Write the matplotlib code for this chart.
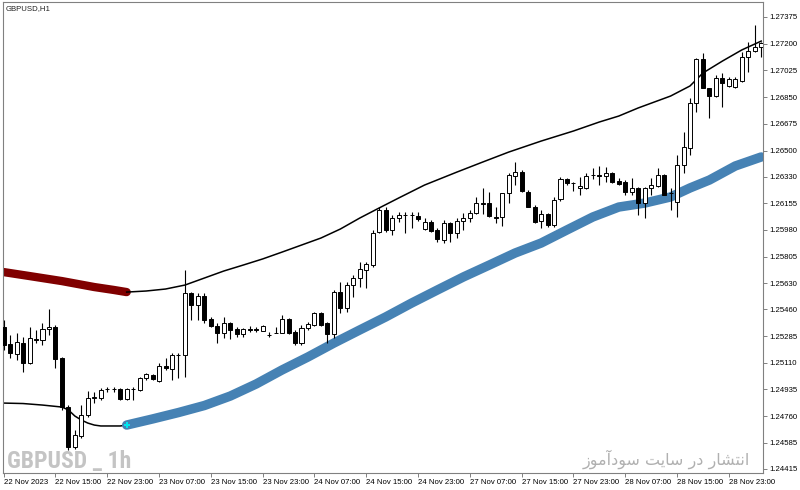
import matplotlib
matplotlib.use("Agg")
import matplotlib.pyplot as plt
import numpy as np

# ---------------- data ----------------
opens = [1.25344, 1.25233, 1.25167, 1.25239, 1.25108, 1.25266, 1.25259, 1.25331, 1.25344, 1.25141,
         1.24820, 1.24558, 1.24630, 1.24768, 1.24879, 1.24879, 1.24938, 1.24938, 1.24938, 1.24873,
         1.24938, 1.24932, 1.25010, 1.25030, 1.24990, 1.25089, 1.25069, 1.25161, 1.25161, 1.25567,
         1.25488, 1.25547, 1.25397, 1.25351, 1.25305, 1.25370, 1.25331, 1.25298, 1.25331, 1.25331,
         1.25318, 1.25292, 1.25305, 1.25305, 1.25397, 1.25311, 1.25239, 1.25338, 1.25357, 1.25436,
         1.25370, 1.25298, 1.25573, 1.25469, 1.25619, 1.25665, 1.25718, 1.25750, 1.25966, 1.26111,
         1.25980, 1.26058, 1.26078, 1.26078, 1.26071, 1.25986, 1.26032, 1.25980, 1.25914, 1.26025,
         1.25960, 1.26038, 1.26058, 1.26091, 1.26156, 1.26156, 1.26068, 1.26065, 1.26222, 1.26333,
         1.26359, 1.26228, 1.26130, 1.26038, 1.26084, 1.26012, 1.26183, 1.26314, 1.26287, 1.26255,
         1.26255, 1.26340, 1.26340, 1.26333, 1.26353, 1.26300, 1.26294, 1.26228, 1.26255, 1.26156,
         1.26255, 1.26268, 1.26340, 1.26222, 1.26163, 1.26405, 1.26517, 1.26811, 1.27100, 1.26910,
         1.26857, 1.26975, 1.26923, 1.26916, 1.26955, 1.27113, 1.27152, 1.27178]
highs = [1.25390, 1.25292, 1.25305, 1.25279, 1.25344, 1.25325, 1.25370, 1.25462, 1.25357, 1.25148,
         1.24833, 1.24670, 1.24833, 1.24925, 1.24918, 1.24945, 1.24951, 1.24951, 1.24945, 1.24945,
         1.24951, 1.25017, 1.25043, 1.25036, 1.25108, 1.25141, 1.25174, 1.25174, 1.25718, 1.25573,
         1.25567, 1.25567, 1.25410, 1.25370, 1.25410, 1.25377, 1.25344, 1.25338, 1.25351, 1.25344,
         1.25357, 1.25311, 1.25344, 1.25423, 1.25403, 1.25325, 1.25357, 1.25377, 1.25442, 1.25442,
         1.25377, 1.25587, 1.25639, 1.25639, 1.25685, 1.25770, 1.25770, 1.25980, 1.26130, 1.26130,
         1.26078, 1.26097, 1.26097, 1.26097, 1.26097, 1.26058, 1.26045, 1.25993, 1.26045, 1.26032,
         1.26058, 1.26091, 1.26111, 1.26196, 1.26255, 1.26228, 1.26130, 1.26222, 1.26353, 1.26425,
         1.26372, 1.26242, 1.26143, 1.26111, 1.26091, 1.26196, 1.26327, 1.26320, 1.26294, 1.26327,
         1.26353, 1.26386, 1.26399, 1.26392, 1.26359, 1.26320, 1.26307, 1.26320, 1.26261, 1.26261,
         1.26320, 1.26386, 1.26346, 1.26255, 1.26471, 1.26621, 1.26844, 1.27106, 1.27139, 1.26910,
         1.26995, 1.27008, 1.26982, 1.26982, 1.27145, 1.27211, 1.27322, 1.27211]
lows = [1.25194, 1.25141, 1.25128, 1.25049, 1.25102, 1.25239, 1.25226, 1.25292, 1.25076, 1.24801,
        1.24539, 1.24545, 1.24617, 1.24755, 1.24846, 1.24866, 1.24918, 1.24918, 1.24866, 1.24866,
        1.24866, 1.24925, 1.24997, 1.24997, 1.24984, 1.25063, 1.24997, 1.25010, 1.25017, 1.25390,
        1.25390, 1.25370, 1.25344, 1.25239, 1.25272, 1.25266, 1.25279, 1.25279, 1.25311, 1.25311,
        1.25318, 1.25279, 1.25305, 1.25305, 1.25298, 1.25226, 1.25226, 1.25325, 1.25351, 1.25351,
        1.25239, 1.25272, 1.25436, 1.25442, 1.25541, 1.25606, 1.25600, 1.25737, 1.25960, 1.25966,
        1.25947, 1.26032, 1.25960, 1.25993, 1.26038, 1.25980, 1.25966, 1.25901, 1.25894, 1.25901,
        1.25927, 1.25980, 1.26032, 1.26084, 1.26084, 1.26065, 1.26025, 1.26006, 1.26156, 1.26274,
        1.26228, 1.26130, 1.26025, 1.25993, 1.25999, 1.25999, 1.26169, 1.26274, 1.26235, 1.26209,
        1.26248, 1.26314, 1.26274, 1.26294, 1.26287, 1.26274, 1.26209, 1.26209, 1.26078, 1.26058,
        1.26209, 1.26261, 1.26209, 1.26111, 1.26065, 1.26353, 1.26471, 1.26752, 1.26910, 1.26713,
        1.26851, 1.26785, 1.26916, 1.26910, 1.26949, 1.27014, 1.27145, 1.27113]
closes = [1.25226, 1.25174, 1.25246, 1.25108, 1.25272, 1.25259, 1.25331, 1.25344, 1.25135, 1.24820,
          1.24558, 1.24637, 1.24768, 1.24879, 1.24886, 1.24932, 1.24940, 1.24936, 1.24873, 1.24938,
          1.24940, 1.25010, 1.25036, 1.25004, 1.25089, 1.25076, 1.25161, 1.25160, 1.25567, 1.25488,
          1.25547, 1.25390, 1.25351, 1.25305, 1.25370, 1.25325, 1.25298, 1.25331, 1.25325, 1.25325,
          1.25351, 1.25290, 1.25303, 1.25397, 1.25305, 1.25239, 1.25338, 1.25364, 1.25436, 1.25357,
          1.25298, 1.25573, 1.25469, 1.25619, 1.25665, 1.25724, 1.25757, 1.25960, 1.26111, 1.25980,
          1.26058, 1.26078, 1.26076, 1.26076, 1.26052, 1.26032, 1.25973, 1.25921, 1.26025, 1.25960,
          1.26038, 1.26058, 1.26091, 1.26156, 1.26152, 1.26071, 1.26061, 1.26222, 1.26340, 1.26359,
          1.26235, 1.26130, 1.26032, 1.26084, 1.26012, 1.26176, 1.26314, 1.26287, 1.26285, 1.26268,
          1.26333, 1.26338, 1.26333, 1.26353, 1.26294, 1.26281, 1.26228, 1.26255, 1.26156, 1.26255,
          1.26274, 1.26340, 1.26209, 1.26220, 1.26405, 1.26523, 1.26811, 1.27100, 1.26910, 1.26857,
          1.26975, 1.26942, 1.26969, 1.26969, 1.27113, 1.27152, 1.27178, 1.27204]

# upper band: dark red while active (up to red_end), then thin black
upper_idx = [0, 4, 9, 14, 17, 19, 22, 25, 28, 31, 34, 37, 40, 43, 46, 49, 52, 55, 58, 61, 65, 70,
             74, 78, 83, 88, 92, 95, 98, 103, 106, 108, 111, 114, 117]
upper_val = [1.25704, 1.25678, 1.25645, 1.25606, 1.25587, 1.25573, 1.25580, 1.25593, 1.25619, 1.25665,
             1.25711, 1.25750, 1.25790, 1.25835, 1.25881, 1.25927, 1.25986, 1.26058, 1.26124, 1.26189,
             1.26274, 1.26359, 1.26425, 1.26490, 1.26562, 1.26628, 1.26687, 1.26726, 1.26779, 1.26857,
             1.26923, 1.27008, 1.27086, 1.27159, 1.27217]
red_end = 19
# lower band: thin black, then thick steel blue from blue_start
lower_idx = [0, 3, 6, 9, 10, 11, 12, 13, 14, 15, 18, 19, 23, 27, 31, 35, 39, 43, 47, 51, 55, 59, 63,
             67, 71, 75, 79, 83, 87, 91, 95, 99, 103, 106, 109, 113, 117]
lower_val = [1.24846, 1.24843, 1.24833, 1.24820, 1.24801, 1.24761, 1.24735, 1.24715, 1.24702, 1.24696,
             1.24696, 1.24702, 1.24742, 1.24784, 1.24830, 1.24892, 1.24971, 1.25063, 1.25148, 1.25239,
             1.25325, 1.25410, 1.25501, 1.25587, 1.25672, 1.25750, 1.25829, 1.25894, 1.25980, 1.26065,
             1.26130, 1.26156, 1.26196, 1.26255, 1.26307, 1.26399, 1.26458]
blue_start = 19

ytick_vals = [1.27375, 1.27200, 1.27025, 1.26850, 1.26675, 1.26500, 1.26330, 1.26155, 1.25980,
              1.25805, 1.25630, 1.25460, 1.25285, 1.25110, 1.24935, 1.24760, 1.24585, 1.24415]
xtick_labels = ["22 Nov 2023", "22 Nov 15:00", "22 Nov 23:00", "23 Nov 07:00", "23 Nov 15:00",
                "23 Nov 23:00", "24 Nov 07:00", "24 Nov 15:00", "24 Nov 23:00", "27 Nov 07:00",
                "27 Nov 15:00", "27 Nov 23:00", "28 Nov 07:00", "28 Nov 15:00", "28 Nov 23:00"]
bars_per_label = 8

title_text = "GBPUSD,H1"
watermark = "GBPUSD _ 1h"
persian = "انتشار در سایت سودآموز"

# ---------------- simple Arabic shaping for display ----------------
FORMS = {
    'ا': ('\uFE8D', '\uFE8E', None, None),
    'آ': ('\uFE81', '\uFE82', None, None),
    'ن': ('\uFEE5', '\uFEE6', '\uFEE7', '\uFEE8'),
    'ت': ('\uFE95', '\uFE96', '\uFE97', '\uFE98'),
    'ش': ('\uFEB5', '\uFEB6', '\uFEB7', '\uFEB8'),
    'ر': ('\uFEAD', '\uFEAE', None, None),
    'د': ('\uFEA9', '\uFEAA', None, None),
    'س': ('\uFEB1', '\uFEB2', '\uFEB3', '\uFEB4'),
    'ی': ('\uFBFC', '\uFBFD', '\uFEF3', '\uFEF4'),
    'و': ('\uFEED', '\uFEEE', None, None),
    'م': ('\uFEE1', '\uFEE2', '\uFEE3', '\uFEE4'),
    'ز': ('\uFEAF', '\uFEB0', None, None),
}


def shape(text):
    chars = list(text)
    out = []
    for k, ch in enumerate(chars):
        if ch not in FORMS:
            out.append(ch)
            continue
        iso, fin, ini, med = FORMS[ch]
        prev = chars[k - 1] if k > 0 else None
        nxt = chars[k + 1] if k + 1 < len(chars) else None
        jp = prev in FORMS and FORMS[prev][2] is not None
        jn = ini is not None and nxt in FORMS
        if jp and jn:
            out.append(med)
        elif jp:
            out.append(fin)
        elif jn:
            out.append(ini)
        else:
            out.append(iso)
    return ''.join(reversed(out))


# ---------------- figure ----------------
W, H = 800, 490
fig = plt.figure(figsize=(W / 100, H / 100), dpi=100)
fig.patch.set_facecolor('white')
ax = fig.add_axes([3 / W, (H - 473) / H, 760 / W, 471 / H])
ax.set_facecolor('white')

n = len(opens)
x = np.arange(n)
o = np.array(opens); c = np.array(closes); hi = np.array(highs); lo = np.array(lows)

# bands
ui = np.array(upper_idx); uv = np.array(upper_val)
li = np.array(lower_idx); lv = np.array(lower_val)
m = ui <= red_end
ax.plot(ui[m], uv[m], color='#800000', lw=6.0, solid_capstyle='round', zorder=2)
m2 = ui >= red_end
ax.plot(ui[m2], uv[m2], color='black', lw=1.1, zorder=2, solid_joinstyle='round')
m3 = li <= blue_start
ax.plot(li[m3], lv[m3], color='black', lw=1.1, zorder=2, solid_joinstyle='round')
m4 = li >= blue_start
ax.plot(li[m4], lv[m4], color='#4682B4', lw=6.8, solid_capstyle='round',
        solid_joinstyle='round', zorder=2)
ax.plot([blue_start], [lower_val[lower_idx.index(blue_start)]], marker='P', color='#00E5EE',
        markersize=4.5, mew=0, zorder=3)

# candles
ax.vlines(x, lo, hi, color='black', lw=0.8, zorder=4)
bull = c >= o
bw = 0.62
ax.bar(x[bull], (c - o)[bull], bottom=o[bull], width=bw, facecolor='white',
       edgecolor='black', linewidth=0.7, zorder=5)
ax.bar(x[~bull], (o - c)[~bull], bottom=c[~bull], width=bw, facecolor='black',
       edgecolor='black', linewidth=0.7, zorder=5)

# axes limits
px_per_bar = 6.475
ax.set_xlim(-0.1, -0.1 + 760 / px_per_bar)
ax.set_ylim(1.24388, 1.27473)

# y ticks right
ax.yaxis.tick_right()
ax.set_yticks(ytick_vals)
ax.set_yticklabels([f"{v:.5f}" for v in ytick_vals])
ax.tick_params(axis='y', direction='out', length=3, width=0.7, color='#808080',
               labelsize=5.6, pad=1.5, labelcolor='black')
ax.set_xticks(np.arange(len(xtick_labels)) * bars_per_label)
ax.set_xticklabels(xtick_labels)
ax.tick_params(axis='x', direction='out', length=3, width=0.7, color='#808080',
               labelsize=5.6, pad=1.5, labelcolor='black')
for lab in ax.get_xticklabels():
    lab.set_horizontalalignment('left')
for lab in ax.get_xticklabels() + ax.get_yticklabels():
    lab.set_family(['Liberation Sans', 'DejaVu Sans'])

for s in ax.spines.values():
    s.set_color('#808080')
    s.set_linewidth(0.8)

# texts
fig.text(6 / W, 1 - 9 / H, title_text, fontsize=5.6, va='center', ha='left',
         family=['Liberation Sans', 'DejaVu Sans'], color='#202020')
fig.text(7 / W, 1 - 468 / H, watermark, fontsize=17, fontweight='bold', va='baseline', ha='left',
         fontstretch='condensed',
         family=['Roboto Condensed', 'DejaVu Sans Condensed', 'Liberation Sans Narrow', 'DejaVu Sans'],
         color='#c4c4c4')
fig.text(750 / W, 1 - 465 / H, shape(persian), fontsize=11.5, va='baseline', ha='right',
         family=['DejaVu Sans'], color='#b0b0b0')

fig.savefig('out.png', dpi=100, facecolor='white')
